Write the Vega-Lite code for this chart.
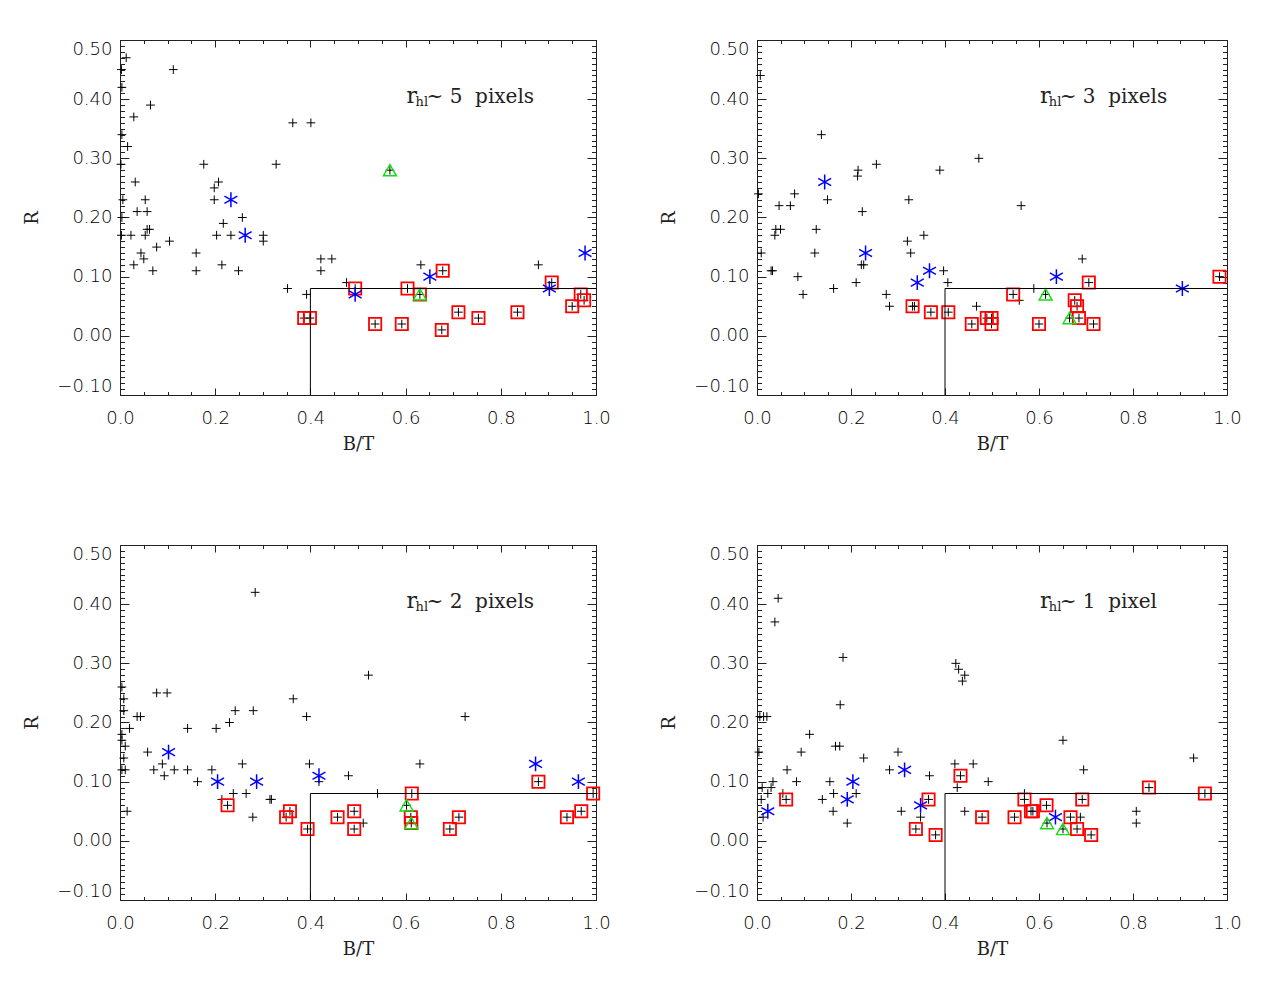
{
"$schema": "https://vega.github.io/schema/vega-lite/v6.json",
"background": "white",
"padding": {"left": 23, "top": 39, "right": 10, "bottom": 10},
"config": {
 "view": {"stroke": "#222", "strokeWidth": 1},
 "axis": {"grid": false, "domain": false, "tickColor": "#222", "tickWidth": 1, "labelFont": "DejaVu Sans", "labelFontSize": 18, "labelFontWeight": 300, "labelColor": "#000", "titleFont": "DejaVu Serif", "titleFontSize": 18, "titleFontWeight": "normal", "titleColor": "#222"},
 "text": {"font": "DejaVu Serif", "color": "#222"}
},
"datasets": {
 "edge": [{"bt": 0.4, "r": -0.1, "o": 1}, {"bt": 0.4, "r": 0.08, "o": 2}, {"bt": 1.0, "r": 0.08, "o": 3}],
 "pts": [
  {"p":1,"bt":0.013,"r":0.47,"k":"p"},{"p":1,"bt":0.112,"r":0.45,"k":"p"},{"p":1,"bt":0.003,"r":0.45,"k":"p"},{"p":1,"bt":0.004,"r":0.42,"k":"p"},
  {"p":1,"bt":0.064,"r":0.39,"k":"p"},{"p":1,"bt":0.029,"r":0.37,"k":"p"},{"p":1,"bt":0.004,"r":0.34,"k":"p"},{"p":1,"bt":0.016,"r":0.32,"k":"p"},
  {"p":1,"bt":0.363,"r":0.36,"k":"p"},{"p":1,"bt":0.401,"r":0.36,"k":"p"},{"p":1,"bt":0.176,"r":0.29,"k":"p"},{"p":1,"bt":0.328,"r":0.29,"k":"p"},
  {"p":1,"bt":0.002,"r":0.29,"k":"p"},{"p":1,"bt":0.032,"r":0.26,"k":"p"},{"p":1,"bt":0.207,"r":0.26,"k":"p"},{"p":1,"bt":0.198,"r":0.25,"k":"p"},
  {"p":1,"bt":0.198,"r":0.23,"k":"p"},{"p":1,"bt":0.006,"r":0.23,"k":"p"},{"p":1,"bt":0.053,"r":0.23,"k":"p"},{"p":1,"bt":0.036,"r":0.21,"k":"p"},
  {"p":1,"bt":0.057,"r":0.21,"k":"p"},{"p":1,"bt":0.257,"r":0.20,"k":"p"},{"p":1,"bt":0.004,"r":0.20,"k":"p"},{"p":1,"bt":0.217,"r":0.19,"k":"p"},
  {"p":1,"bt":0.057,"r":0.18,"k":"p"},{"p":1,"bt":0.062,"r":0.18,"k":"p"},{"p":1,"bt":0.003,"r":0.17,"k":"p"},{"p":1,"bt":0.023,"r":0.17,"k":"p"},
  {"p":1,"bt":0.053,"r":0.17,"k":"p"},{"p":1,"bt":0.203,"r":0.17,"k":"p"},{"p":1,"bt":0.233,"r":0.17,"k":"p"},{"p":1,"bt":0.301,"r":0.17,"k":"p"},
  {"p":1,"bt":0.301,"r":0.16,"k":"p"},{"p":1,"bt":0.077,"r":0.15,"k":"p"},{"p":1,"bt":0.104,"r":0.16,"k":"p"},{"p":1,"bt":0.044,"r":0.14,"k":"p"},
  {"p":1,"bt":0.050,"r":0.13,"k":"p"},{"p":1,"bt":0.160,"r":0.14,"k":"p"},{"p":1,"bt":0.029,"r":0.12,"k":"p"},{"p":1,"bt":0.214,"r":0.12,"k":"p"},
  {"p":1,"bt":0.069,"r":0.11,"k":"p"},{"p":1,"bt":0.160,"r":0.11,"k":"p"},{"p":1,"bt":0.249,"r":0.11,"k":"p"},{"p":1,"bt":0.422,"r":0.13,"k":"p"},
  {"p":1,"bt":0.445,"r":0.13,"k":"p"},{"p":1,"bt":0.422,"r":0.11,"k":"p"},{"p":1,"bt":0.352,"r":0.08,"k":"p"},{"p":1,"bt":0.392,"r":0.07,"k":"p"},
  {"p":1,"bt":0.476,"r":0.09,"k":"p"},{"p":1,"bt":0.632,"r":0.12,"k":"p"},{"p":1,"bt":0.879,"r":0.12,"k":"p"},
  {"p":1,"bt":0.387,"r":0.03,"k":"s"},{"p":1,"bt":0.399,"r":0.03,"k":"s"},{"p":1,"bt":0.494,"r":0.08,"k":"s"},{"p":1,"bt":0.604,"r":0.08,"k":"s"},
  {"p":1,"bt":0.678,"r":0.11,"k":"s"},{"p":1,"bt":0.536,"r":0.02,"k":"s"},{"p":1,"bt":0.592,"r":0.02,"k":"s"},{"p":1,"bt":0.676,"r":0.01,"k":"s"},
  {"p":1,"bt":0.711,"r":0.04,"k":"s"},{"p":1,"bt":0.753,"r":0.03,"k":"s"},{"p":1,"bt":0.835,"r":0.04,"k":"s"},{"p":1,"bt":0.907,"r":0.09,"k":"s"},
  {"p":1,"bt":0.968,"r":0.07,"k":"s"},{"p":1,"bt":0.975,"r":0.06,"k":"s"},{"p":1,"bt":0.950,"r":0.05,"k":"s"},
  {"p":1,"bt":0.567,"r":0.28,"k":"t"},{"p":1,"bt":0.630,"r":0.07,"k":"st"},
  {"p":1,"bt":0.233,"r":0.23,"k":"a"},{"p":1,"bt":0.263,"r":0.17,"k":"a"},{"p":1,"bt":0.494,"r":0.07,"k":"a"},{"p":1,"bt":0.651,"r":0.10,"k":"a"},
  {"p":1,"bt":0.902,"r":0.08,"k":"a"},{"p":1,"bt":0.977,"r":0.14,"k":"a"},

  {"p":2,"bt":0.007,"r":0.44,"k":"p"},{"p":2,"bt":0.137,"r":0.34,"k":"p"},{"p":2,"bt":0.472,"r":0.30,"k":"p"},{"p":2,"bt":0.254,"r":0.29,"k":"p"},
  {"p":2,"bt":0.215,"r":0.28,"k":"p"},{"p":2,"bt":0.214,"r":0.27,"k":"p"},{"p":2,"bt":0.389,"r":0.28,"k":"p"},{"p":2,"bt":0.080,"r":0.24,"k":"p"},
  {"p":2,"bt":0.003,"r":0.24,"k":"p"},{"p":2,"bt":0.150,"r":0.23,"k":"p"},{"p":2,"bt":0.323,"r":0.23,"k":"p"},{"p":2,"bt":0.047,"r":0.22,"k":"p"},
  {"p":2,"bt":0.071,"r":0.22,"k":"p"},{"p":2,"bt":0.224,"r":0.21,"k":"p"},{"p":2,"bt":0.040,"r":0.18,"k":"p"},{"p":2,"bt":0.050,"r":0.18,"k":"p"},
  {"p":2,"bt":0.038,"r":0.17,"k":"p"},{"p":2,"bt":0.126,"r":0.18,"k":"p"},{"p":2,"bt":0.320,"r":0.16,"k":"p"},{"p":2,"bt":0.355,"r":0.17,"k":"p"},
  {"p":2,"bt":0.009,"r":0.14,"k":"p"},{"p":2,"bt":0.123,"r":0.14,"k":"p"},{"p":2,"bt":0.327,"r":0.14,"k":"p"},{"p":2,"bt":0.222,"r":0.12,"k":"p"},
  {"p":2,"bt":0.227,"r":0.12,"k":"p"},{"p":2,"bt":0.030,"r":0.11,"k":"p"},{"p":2,"bt":0.033,"r":0.11,"k":"p"},{"p":2,"bt":0.087,"r":0.10,"k":"p"},
  {"p":2,"bt":0.098,"r":0.07,"k":"p"},{"p":2,"bt":0.163,"r":0.08,"k":"p"},{"p":2,"bt":0.211,"r":0.09,"k":"p"},{"p":2,"bt":0.397,"r":0.11,"k":"p"},
  {"p":2,"bt":0.406,"r":0.09,"k":"p"},{"p":2,"bt":0.275,"r":0.07,"k":"p"},{"p":2,"bt":0.282,"r":0.05,"k":"p"},{"p":2,"bt":0.467,"r":0.05,"k":"p"},
  {"p":2,"bt":0.562,"r":0.22,"k":"p"},{"p":2,"bt":0.692,"r":0.13,"k":"p"},{"p":2,"bt":0.589,"r":0.08,"k":"p"},{"p":2,"bt":0.558,"r":0.06,"k":"p"},
  {"p":2,"bt":0.335,"r":0.05,"k":"p"},
  {"p":2,"bt":0.331,"r":0.05,"k":"s"},{"p":2,"bt":0.370,"r":0.04,"k":"s"},{"p":2,"bt":0.407,"r":0.04,"k":"s"},{"p":2,"bt":0.457,"r":0.02,"k":"s"},
  {"p":2,"bt":0.489,"r":0.03,"k":"s"},{"p":2,"bt":0.499,"r":0.03,"k":"s"},{"p":2,"bt":0.499,"r":0.02,"k":"s"},{"p":2,"bt":0.545,"r":0.07,"k":"s"},
  {"p":2,"bt":0.600,"r":0.02,"k":"s"},{"p":2,"bt":0.676,"r":0.06,"k":"s"},{"p":2,"bt":0.681,"r":0.05,"k":"s"},{"p":2,"bt":0.685,"r":0.03,"k":"s"},
  {"p":2,"bt":0.716,"r":0.02,"k":"s"},{"p":2,"bt":0.706,"r":0.09,"k":"s"},{"p":2,"bt":0.984,"r":0.10,"k":"s"},
  {"p":2,"bt":0.614,"r":0.07,"k":"t"},{"p":2,"bt":0.665,"r":0.03,"k":"t"},
  {"p":2,"bt":0.144,"r":0.26,"k":"a"},{"p":2,"bt":0.231,"r":0.14,"k":"a"},{"p":2,"bt":0.367,"r":0.11,"k":"a"},{"p":2,"bt":0.341,"r":0.09,"k":"a"},
  {"p":2,"bt":0.637,"r":0.10,"k":"a"},{"p":2,"bt":0.905,"r":0.08,"k":"a"},

  {"p":3,"bt":0.284,"r":0.42,"k":"p"},{"p":3,"bt":0.004,"r":0.26,"k":"p"},{"p":3,"bt":0.008,"r":0.24,"k":"p"},{"p":3,"bt":0.008,"r":0.22,"k":"p"},
  {"p":3,"bt":0.036,"r":0.21,"k":"p"},{"p":3,"bt":0.043,"r":0.21,"k":"p"},{"p":3,"bt":0.020,"r":0.19,"k":"p"},{"p":3,"bt":0.004,"r":0.18,"k":"p"},
  {"p":3,"bt":0.004,"r":0.17,"k":"p"},{"p":3,"bt":0.011,"r":0.16,"k":"p"},{"p":3,"bt":0.008,"r":0.14,"k":"p"},{"p":3,"bt":0.004,"r":0.12,"k":"p"},
  {"p":3,"bt":0.011,"r":0.12,"k":"p"},{"p":3,"bt":0.015,"r":0.05,"k":"p"},{"p":3,"bt":0.077,"r":0.25,"k":"p"},{"p":3,"bt":0.099,"r":0.25,"k":"p"},
  {"p":3,"bt":0.142,"r":0.19,"k":"p"},{"p":3,"bt":0.202,"r":0.19,"k":"p"},{"p":3,"bt":0.230,"r":0.20,"k":"p"},{"p":3,"bt":0.242,"r":0.22,"k":"p"},
  {"p":3,"bt":0.280,"r":0.22,"k":"p"},{"p":3,"bt":0.364,"r":0.24,"k":"p"},{"p":3,"bt":0.392,"r":0.21,"k":"p"},{"p":3,"bt":0.058,"r":0.15,"k":"p"},
  {"p":3,"bt":0.089,"r":0.13,"k":"p"},{"p":3,"bt":0.071,"r":0.12,"k":"p"},{"p":3,"bt":0.114,"r":0.12,"k":"p"},{"p":3,"bt":0.142,"r":0.12,"k":"p"},
  {"p":3,"bt":0.093,"r":0.11,"k":"p"},{"p":3,"bt":0.193,"r":0.12,"k":"p"},{"p":3,"bt":0.257,"r":0.13,"k":"p"},{"p":3,"bt":0.163,"r":0.10,"k":"p"},
  {"p":3,"bt":0.398,"r":0.13,"k":"p"},{"p":3,"bt":0.418,"r":0.10,"k":"p"},{"p":3,"bt":0.480,"r":0.11,"k":"p"},{"p":3,"bt":0.238,"r":0.08,"k":"p"},
  {"p":3,"bt":0.214,"r":0.07,"k":"p"},{"p":3,"bt":0.265,"r":0.08,"k":"p"},{"p":3,"bt":0.315,"r":0.07,"k":"p"},{"p":3,"bt":0.318,"r":0.07,"k":"p"},
  {"p":3,"bt":0.279,"r":0.04,"k":"p"},{"p":3,"bt":0.522,"r":0.28,"k":"p"},{"p":3,"bt":0.725,"r":0.21,"k":"p"},{"p":3,"bt":0.630,"r":0.13,"k":"p"},
  {"p":3,"bt":0.541,"r":0.08,"k":"p"},{"p":3,"bt":0.511,"r":0.03,"k":"p"},
  {"p":3,"bt":0.226,"r":0.06,"k":"s"},{"p":3,"bt":0.357,"r":0.05,"k":"s"},{"p":3,"bt":0.349,"r":0.04,"k":"s"},{"p":3,"bt":0.394,"r":0.02,"k":"s"},
  {"p":3,"bt":0.457,"r":0.04,"k":"s"},{"p":3,"bt":0.492,"r":0.05,"k":"s"},{"p":3,"bt":0.492,"r":0.02,"k":"s"},{"p":3,"bt":0.613,"r":0.08,"k":"s"},
  {"p":3,"bt":0.611,"r":0.04,"k":"s"},{"p":3,"bt":0.693,"r":0.02,"k":"s"},{"p":3,"bt":0.712,"r":0.04,"k":"s"},{"p":3,"bt":0.879,"r":0.10,"k":"s"},
  {"p":3,"bt":0.939,"r":0.04,"k":"s"},{"p":3,"bt":0.969,"r":0.05,"k":"s"},{"p":3,"bt":0.994,"r":0.08,"k":"s"},
  {"p":3,"bt":0.612,"r":0.03,"k":"st"},{"p":3,"bt":0.602,"r":0.06,"k":"t"},
  {"p":3,"bt":0.102,"r":0.15,"k":"a"},{"p":3,"bt":0.205,"r":0.10,"k":"a"},{"p":3,"bt":0.287,"r":0.10,"k":"a"},{"p":3,"bt":0.418,"r":0.11,"k":"a"},
  {"p":3,"bt":0.873,"r":0.13,"k":"a"},{"p":3,"bt":0.963,"r":0.10,"k":"a"},

  {"p":4,"bt":0.045,"r":0.41,"k":"p"},{"p":4,"bt":0.038,"r":0.37,"k":"p"},{"p":4,"bt":0.183,"r":0.31,"k":"p"},{"p":4,"bt":0.177,"r":0.23,"k":"p"},
  {"p":4,"bt":0.423,"r":0.30,"k":"p"},{"p":4,"bt":0.429,"r":0.29,"k":"p"},{"p":4,"bt":0.442,"r":0.28,"k":"p"},{"p":4,"bt":0.437,"r":0.27,"k":"p"},
  {"p":4,"bt":0.006,"r":0.21,"k":"p"},{"p":4,"bt":0.014,"r":0.21,"k":"p"},{"p":4,"bt":0.021,"r":0.21,"k":"p"},{"p":4,"bt":0.112,"r":0.18,"k":"p"},
  {"p":4,"bt":0.004,"r":0.15,"k":"p"},{"p":4,"bt":0.094,"r":0.15,"k":"p"},{"p":4,"bt":0.167,"r":0.16,"k":"p"},{"p":4,"bt":0.176,"r":0.16,"k":"p"},
  {"p":4,"bt":0.227,"r":0.14,"k":"p"},{"p":4,"bt":0.300,"r":0.15,"k":"p"},{"p":4,"bt":0.064,"r":0.12,"k":"p"},{"p":4,"bt":0.282,"r":0.12,"k":"p"},
  {"p":4,"bt":0.084,"r":0.10,"k":"p"},{"p":4,"bt":0.155,"r":0.10,"k":"p"},{"p":4,"bt":0.034,"r":0.10,"k":"p"},{"p":4,"bt":0.011,"r":0.09,"k":"p"},
  {"p":4,"bt":0.030,"r":0.09,"k":"p"},{"p":4,"bt":0.023,"r":0.08,"k":"p"},{"p":4,"bt":0.055,"r":0.08,"k":"p"},{"p":4,"bt":0.009,"r":0.07,"k":"p"},
  {"p":4,"bt":0.013,"r":0.04,"k":"p"},{"p":4,"bt":0.163,"r":0.08,"k":"p"},{"p":4,"bt":0.139,"r":0.07,"k":"p"},{"p":4,"bt":0.211,"r":0.08,"k":"p"},
  {"p":4,"bt":0.162,"r":0.05,"k":"p"},{"p":4,"bt":0.192,"r":0.03,"k":"p"},{"p":4,"bt":0.421,"r":0.13,"k":"p"},{"p":4,"bt":0.460,"r":0.13,"k":"p"},
  {"p":4,"bt":0.426,"r":0.09,"k":"p"},{"p":4,"bt":0.367,"r":0.11,"k":"p"},{"p":4,"bt":0.492,"r":0.10,"k":"p"},{"p":4,"bt":0.348,"r":0.04,"k":"p"},
  {"p":4,"bt":0.307,"r":0.05,"k":"p"},{"p":4,"bt":0.442,"r":0.05,"k":"p"},{"p":4,"bt":0.651,"r":0.17,"k":"p"},{"p":4,"bt":0.695,"r":0.12,"k":"p"},
  {"p":4,"bt":0.929,"r":0.14,"k":"p"},{"p":4,"bt":0.569,"r":0.08,"k":"p"},{"p":4,"bt":0.688,"r":0.04,"k":"p"},{"p":4,"bt":0.807,"r":0.05,"k":"p"},
  {"p":4,"bt":0.807,"r":0.03,"k":"p"},
  {"p":4,"bt":0.062,"r":0.07,"k":"s"},{"p":4,"bt":0.433,"r":0.11,"k":"s"},{"p":4,"bt":0.365,"r":0.07,"k":"s"},{"p":4,"bt":0.338,"r":0.02,"k":"s"},
  {"p":4,"bt":0.380,"r":0.01,"k":"s"},{"p":4,"bt":0.479,"r":0.04,"k":"s"},{"p":4,"bt":0.834,"r":0.09,"k":"s"},{"p":4,"bt":0.953,"r":0.08,"k":"s"},
  {"p":4,"bt":0.569,"r":0.07,"k":"s"},{"p":4,"bt":0.692,"r":0.07,"k":"s"},{"p":4,"bt":0.616,"r":0.06,"k":"s"},{"p":4,"bt":0.583,"r":0.05,"k":"s"},
  {"p":4,"bt":0.587,"r":0.05,"k":"s"},{"p":4,"bt":0.548,"r":0.04,"k":"s"},{"p":4,"bt":0.667,"r":0.04,"k":"s"},{"p":4,"bt":0.681,"r":0.02,"k":"s"},
  {"p":4,"bt":0.711,"r":0.01,"k":"s"},
  {"p":4,"bt":0.617,"r":0.03,"k":"t"},{"p":4,"bt":0.651,"r":0.02,"k":"t"},
  {"p":4,"bt":0.023,"r":0.05,"k":"a"},{"p":4,"bt":0.314,"r":0.12,"k":"a"},{"p":4,"bt":0.204,"r":0.10,"k":"a"},{"p":4,"bt":0.192,"r":0.07,"k":"a"},
  {"p":4,"bt":0.348,"r":0.06,"k":"a"},{"p":4,"bt":0.635,"r":0.04,"k":"a"}
 ]
},
"columns": 2,
"spacing": {"row": 150, "column": 161},
"bounds": "flush",
"concat": [
 {"width": 476, "height": 355, "resolve": {"axis": {"x": "independent", "y": "independent"}},
  "layer": [
   {"data": {"name": "pts"}, "transform": [{"filter": "datum.p == 1 && datum.k != 'a'"}],
    "mark": {"type": "point", "shape": "M-1,0H1M0,-1V1", "filled": false, "color": "#000", "strokeWidth": 1, "size": 76, "opacity": 1},
    "encoding": {"x": {"field": "bt", "type": "quantitative", "scale": {"domain": [0, 1], "nice": false, "zero": false}, "axis": {"orient": "bottom", "title": "B/T", "ticks": false, "values": [0, 0.2, 0.4, 0.6, 0.8, 1], "format": ".1f", "labelFlush": false, "labelPadding": 14, "titlePadding": 8}},
                 "y": {"field": "r", "type": "quantitative", "scale": {"domain": [-0.1, 0.5], "nice": false, "zero": false}, "axis": {"orient": "left", "title": "R", "ticks": false, "values": [-0.1, 0, 0.1, 0.2, 0.3, 0.4, 0.5], "format": ".2f", "labelFlush": true, "labelPadding": 8, "titlePadding": 15}}}},
   {"data": {"name": "pts"}, "transform": [{"filter": "datum.p == 1 && (datum.k == 's' || datum.k == 'st')"}],
    "mark": {"type": "point", "shape": "square", "filled": false, "color": "#ff0000", "strokeWidth": 1.8, "size": 150, "opacity": 1},
    "encoding": {"x": {"field": "bt", "type": "quantitative", "axis": {"orient": "bottom", "title": null, "labels": false, "tickCount": 5, "tickSize": -7}},
                 "y": {"field": "r", "type": "quantitative", "axis": {"orient": "left", "title": null, "labels": false, "tickCount": 6, "tickSize": -9}}}},
   {"data": {"name": "pts"}, "transform": [{"filter": "datum.p == 1 && datum.k == 'a'"}],
    "mark": {"type": "point", "shape": "M0,-1V1M-0.87,-0.5L0.87,0.5M-0.87,0.5L0.87,-0.5", "filled": false, "color": "#0000ff", "strokeWidth": 1.5, "size": 220, "opacity": 1},
    "encoding": {"x": {"field": "bt", "type": "quantitative", "axis": {"orient": "bottom", "title": null, "labels": false, "tickCount": 20, "tickSize": -3.5}},
                 "y": {"field": "r", "type": "quantitative", "axis": {"orient": "left", "title": null, "labels": false, "tickCount": 60, "tickSize": -4.5}}}},
   {"data": {"name": "pts"}, "transform": [{"filter": "datum.p == 1 && (datum.k == 't' || datum.k == 'st')"}],
    "mark": {"type": "point", "shape": "triangle-up", "filled": false, "color": "#10e010", "strokeWidth": 1.4, "size": 170, "opacity": 1},
    "encoding": {"x": {"field": "bt", "type": "quantitative", "axis": {"orient": "top", "title": null, "labels": false, "tickCount": 5, "tickSize": -7}},
                 "y": {"field": "r", "type": "quantitative", "axis": {"orient": "right", "title": null, "labels": false, "tickCount": 6, "tickSize": -9}}}},
   {"data": {"name": "edge"}, "mark": {"type": "line", "color": "#000", "strokeWidth": 1},
    "encoding": {"x": {"field": "bt", "type": "quantitative", "axis": {"orient": "top", "title": null, "labels": false, "tickCount": 20, "tickSize": -3.5}},
                 "y": {"field": "r", "type": "quantitative", "axis": {"orient": "right", "title": null, "labels": false, "tickCount": 60, "tickSize": -4.5}},
                 "order": {"field": "o"}}},
   {"data": {"values": [{}]}, "mark": {"type": "text", "text": "r", "fontSize": 22, "align": "left", "baseline": "alphabetic"},
    "encoding": {"x": {"datum": 0.602, "type": "quantitative", "axis": null}, "y": {"datum": 0.394, "type": "quantitative", "axis": null}}},
   {"data": {"values": [{}]}, "mark": {"type": "text", "text": "hl", "fontSize": 13, "align": "left", "baseline": "alphabetic"},
    "encoding": {"x": {"datum": 0.621, "type": "quantitative", "axis": null}, "y": {"datum": 0.388, "type": "quantitative", "axis": null}}},
   {"data": {"values": [{}]}, "mark": {"type": "text", "text": "~\u00a05\u00a0\u00a0pixels", "fontSize": 20, "align": "left", "baseline": "alphabetic"},
    "encoding": {"x": {"datum": 0.644, "type": "quantitative", "axis": null}, "y": {"datum": 0.394, "type": "quantitative", "axis": null}}}
  ]},
 {"width": 470, "height": 355, "resolve": {"axis": {"x": "independent", "y": "independent"}},
  "layer": [
   {"data": {"name": "pts"}, "transform": [{"filter": "datum.p == 2 && datum.k != 'a'"}],
    "mark": {"type": "point", "shape": "M-1,0H1M0,-1V1", "filled": false, "color": "#000", "strokeWidth": 1, "size": 76, "opacity": 1},
    "encoding": {"x": {"field": "bt", "type": "quantitative", "scale": {"domain": [0, 1], "nice": false, "zero": false}, "axis": {"orient": "bottom", "title": "B/T", "ticks": false, "values": [0, 0.2, 0.4, 0.6, 0.8, 1], "format": ".1f", "labelFlush": false, "labelPadding": 14, "titlePadding": 8}},
                 "y": {"field": "r", "type": "quantitative", "scale": {"domain": [-0.1, 0.5], "nice": false, "zero": false}, "axis": {"orient": "left", "title": "R", "ticks": false, "values": [-0.1, 0, 0.1, 0.2, 0.3, 0.4, 0.5], "format": ".2f", "labelFlush": true, "labelPadding": 8, "titlePadding": 15}}}},
   {"data": {"name": "pts"}, "transform": [{"filter": "datum.p == 2 && (datum.k == 's' || datum.k == 'st')"}],
    "mark": {"type": "point", "shape": "square", "filled": false, "color": "#ff0000", "strokeWidth": 1.8, "size": 150, "opacity": 1},
    "encoding": {"x": {"field": "bt", "type": "quantitative", "axis": {"orient": "bottom", "title": null, "labels": false, "tickCount": 5, "tickSize": -7}},
                 "y": {"field": "r", "type": "quantitative", "axis": {"orient": "left", "title": null, "labels": false, "tickCount": 6, "tickSize": -9}}}},
   {"data": {"name": "pts"}, "transform": [{"filter": "datum.p == 2 && datum.k == 'a'"}],
    "mark": {"type": "point", "shape": "M0,-1V1M-0.87,-0.5L0.87,0.5M-0.87,0.5L0.87,-0.5", "filled": false, "color": "#0000ff", "strokeWidth": 1.5, "size": 220, "opacity": 1},
    "encoding": {"x": {"field": "bt", "type": "quantitative", "axis": {"orient": "bottom", "title": null, "labels": false, "tickCount": 20, "tickSize": -3.5}},
                 "y": {"field": "r", "type": "quantitative", "axis": {"orient": "left", "title": null, "labels": false, "tickCount": 60, "tickSize": -4.5}}}},
   {"data": {"name": "pts"}, "transform": [{"filter": "datum.p == 2 && (datum.k == 't' || datum.k == 'st')"}],
    "mark": {"type": "point", "shape": "triangle-up", "filled": false, "color": "#10e010", "strokeWidth": 1.4, "size": 170, "opacity": 1},
    "encoding": {"x": {"field": "bt", "type": "quantitative", "axis": {"orient": "top", "title": null, "labels": false, "tickCount": 5, "tickSize": -7}},
                 "y": {"field": "r", "type": "quantitative", "axis": {"orient": "right", "title": null, "labels": false, "tickCount": 6, "tickSize": -9}}}},
   {"data": {"name": "edge"}, "mark": {"type": "line", "color": "#000", "strokeWidth": 1},
    "encoding": {"x": {"field": "bt", "type": "quantitative", "axis": {"orient": "top", "title": null, "labels": false, "tickCount": 20, "tickSize": -3.5}},
                 "y": {"field": "r", "type": "quantitative", "axis": {"orient": "right", "title": null, "labels": false, "tickCount": 60, "tickSize": -4.5}},
                 "order": {"field": "o"}}},
   {"data": {"values": [{}]}, "mark": {"type": "text", "text": "r", "fontSize": 22, "align": "left", "baseline": "alphabetic"},
    "encoding": {"x": {"datum": 0.602, "type": "quantitative", "axis": null}, "y": {"datum": 0.394, "type": "quantitative", "axis": null}}},
   {"data": {"values": [{}]}, "mark": {"type": "text", "text": "hl", "fontSize": 13, "align": "left", "baseline": "alphabetic"},
    "encoding": {"x": {"datum": 0.621, "type": "quantitative", "axis": null}, "y": {"datum": 0.388, "type": "quantitative", "axis": null}}},
   {"data": {"values": [{}]}, "mark": {"type": "text", "text": "~\u00a03\u00a0\u00a0pixels", "fontSize": 20, "align": "left", "baseline": "alphabetic"},
    "encoding": {"x": {"datum": 0.644, "type": "quantitative", "axis": null}, "y": {"datum": 0.394, "type": "quantitative", "axis": null}}}
  ]},
 {"width": 476, "height": 355, "resolve": {"axis": {"x": "independent", "y": "independent"}},
  "layer": [
   {"data": {"name": "pts"}, "transform": [{"filter": "datum.p == 3 && datum.k != 'a'"}],
    "mark": {"type": "point", "shape": "M-1,0H1M0,-1V1", "filled": false, "color": "#000", "strokeWidth": 1, "size": 76, "opacity": 1},
    "encoding": {"x": {"field": "bt", "type": "quantitative", "scale": {"domain": [0, 1], "nice": false, "zero": false}, "axis": {"orient": "bottom", "title": "B/T", "ticks": false, "values": [0, 0.2, 0.4, 0.6, 0.8, 1], "format": ".1f", "labelFlush": false, "labelPadding": 14, "titlePadding": 8}},
                 "y": {"field": "r", "type": "quantitative", "scale": {"domain": [-0.1, 0.5], "nice": false, "zero": false}, "axis": {"orient": "left", "title": "R", "ticks": false, "values": [-0.1, 0, 0.1, 0.2, 0.3, 0.4, 0.5], "format": ".2f", "labelFlush": true, "labelPadding": 8, "titlePadding": 15}}}},
   {"data": {"name": "pts"}, "transform": [{"filter": "datum.p == 3 && (datum.k == 's' || datum.k == 'st')"}],
    "mark": {"type": "point", "shape": "square", "filled": false, "color": "#ff0000", "strokeWidth": 1.8, "size": 150, "opacity": 1},
    "encoding": {"x": {"field": "bt", "type": "quantitative", "axis": {"orient": "bottom", "title": null, "labels": false, "tickCount": 5, "tickSize": -7}},
                 "y": {"field": "r", "type": "quantitative", "axis": {"orient": "left", "title": null, "labels": false, "tickCount": 6, "tickSize": -9}}}},
   {"data": {"name": "pts"}, "transform": [{"filter": "datum.p == 3 && datum.k == 'a'"}],
    "mark": {"type": "point", "shape": "M0,-1V1M-0.87,-0.5L0.87,0.5M-0.87,0.5L0.87,-0.5", "filled": false, "color": "#0000ff", "strokeWidth": 1.5, "size": 220, "opacity": 1},
    "encoding": {"x": {"field": "bt", "type": "quantitative", "axis": {"orient": "bottom", "title": null, "labels": false, "tickCount": 20, "tickSize": -3.5}},
                 "y": {"field": "r", "type": "quantitative", "axis": {"orient": "left", "title": null, "labels": false, "tickCount": 60, "tickSize": -4.5}}}},
   {"data": {"name": "pts"}, "transform": [{"filter": "datum.p == 3 && (datum.k == 't' || datum.k == 'st')"}],
    "mark": {"type": "point", "shape": "triangle-up", "filled": false, "color": "#10e010", "strokeWidth": 1.4, "size": 170, "opacity": 1},
    "encoding": {"x": {"field": "bt", "type": "quantitative", "axis": {"orient": "top", "title": null, "labels": false, "tickCount": 5, "tickSize": -7}},
                 "y": {"field": "r", "type": "quantitative", "axis": {"orient": "right", "title": null, "labels": false, "tickCount": 6, "tickSize": -9}}}},
   {"data": {"name": "edge"}, "mark": {"type": "line", "color": "#000", "strokeWidth": 1},
    "encoding": {"x": {"field": "bt", "type": "quantitative", "axis": {"orient": "top", "title": null, "labels": false, "tickCount": 20, "tickSize": -3.5}},
                 "y": {"field": "r", "type": "quantitative", "axis": {"orient": "right", "title": null, "labels": false, "tickCount": 60, "tickSize": -4.5}},
                 "order": {"field": "o"}}},
   {"data": {"values": [{}]}, "mark": {"type": "text", "text": "r", "fontSize": 22, "align": "left", "baseline": "alphabetic"},
    "encoding": {"x": {"datum": 0.602, "type": "quantitative", "axis": null}, "y": {"datum": 0.394, "type": "quantitative", "axis": null}}},
   {"data": {"values": [{}]}, "mark": {"type": "text", "text": "hl", "fontSize": 13, "align": "left", "baseline": "alphabetic"},
    "encoding": {"x": {"datum": 0.621, "type": "quantitative", "axis": null}, "y": {"datum": 0.388, "type": "quantitative", "axis": null}}},
   {"data": {"values": [{}]}, "mark": {"type": "text", "text": "~\u00a02\u00a0\u00a0pixels", "fontSize": 20, "align": "left", "baseline": "alphabetic"},
    "encoding": {"x": {"datum": 0.644, "type": "quantitative", "axis": null}, "y": {"datum": 0.394, "type": "quantitative", "axis": null}}}
  ]},
 {"width": 470, "height": 355, "resolve": {"axis": {"x": "independent", "y": "independent"}},
  "layer": [
   {"data": {"name": "pts"}, "transform": [{"filter": "datum.p == 4 && datum.k != 'a'"}],
    "mark": {"type": "point", "shape": "M-1,0H1M0,-1V1", "filled": false, "color": "#000", "strokeWidth": 1, "size": 76, "opacity": 1},
    "encoding": {"x": {"field": "bt", "type": "quantitative", "scale": {"domain": [0, 1], "nice": false, "zero": false}, "axis": {"orient": "bottom", "title": "B/T", "ticks": false, "values": [0, 0.2, 0.4, 0.6, 0.8, 1], "format": ".1f", "labelFlush": false, "labelPadding": 14, "titlePadding": 8}},
                 "y": {"field": "r", "type": "quantitative", "scale": {"domain": [-0.1, 0.5], "nice": false, "zero": false}, "axis": {"orient": "left", "title": "R", "ticks": false, "values": [-0.1, 0, 0.1, 0.2, 0.3, 0.4, 0.5], "format": ".2f", "labelFlush": true, "labelPadding": 8, "titlePadding": 15}}}},
   {"data": {"name": "pts"}, "transform": [{"filter": "datum.p == 4 && (datum.k == 's' || datum.k == 'st')"}],
    "mark": {"type": "point", "shape": "square", "filled": false, "color": "#ff0000", "strokeWidth": 1.8, "size": 150, "opacity": 1},
    "encoding": {"x": {"field": "bt", "type": "quantitative", "axis": {"orient": "bottom", "title": null, "labels": false, "tickCount": 5, "tickSize": -7}},
                 "y": {"field": "r", "type": "quantitative", "axis": {"orient": "left", "title": null, "labels": false, "tickCount": 6, "tickSize": -9}}}},
   {"data": {"name": "pts"}, "transform": [{"filter": "datum.p == 4 && datum.k == 'a'"}],
    "mark": {"type": "point", "shape": "M0,-1V1M-0.87,-0.5L0.87,0.5M-0.87,0.5L0.87,-0.5", "filled": false, "color": "#0000ff", "strokeWidth": 1.5, "size": 220, "opacity": 1},
    "encoding": {"x": {"field": "bt", "type": "quantitative", "axis": {"orient": "bottom", "title": null, "labels": false, "tickCount": 20, "tickSize": -3.5}},
                 "y": {"field": "r", "type": "quantitative", "axis": {"orient": "left", "title": null, "labels": false, "tickCount": 60, "tickSize": -4.5}}}},
   {"data": {"name": "pts"}, "transform": [{"filter": "datum.p == 4 && (datum.k == 't' || datum.k == 'st')"}],
    "mark": {"type": "point", "shape": "triangle-up", "filled": false, "color": "#10e010", "strokeWidth": 1.4, "size": 170, "opacity": 1},
    "encoding": {"x": {"field": "bt", "type": "quantitative", "axis": {"orient": "top", "title": null, "labels": false, "tickCount": 5, "tickSize": -7}},
                 "y": {"field": "r", "type": "quantitative", "axis": {"orient": "right", "title": null, "labels": false, "tickCount": 6, "tickSize": -9}}}},
   {"data": {"name": "edge"}, "mark": {"type": "line", "color": "#000", "strokeWidth": 1},
    "encoding": {"x": {"field": "bt", "type": "quantitative", "axis": {"orient": "top", "title": null, "labels": false, "tickCount": 20, "tickSize": -3.5}},
                 "y": {"field": "r", "type": "quantitative", "axis": {"orient": "right", "title": null, "labels": false, "tickCount": 60, "tickSize": -4.5}},
                 "order": {"field": "o"}}},
   {"data": {"values": [{}]}, "mark": {"type": "text", "text": "r", "fontSize": 22, "align": "left", "baseline": "alphabetic"},
    "encoding": {"x": {"datum": 0.602, "type": "quantitative", "axis": null}, "y": {"datum": 0.394, "type": "quantitative", "axis": null}}},
   {"data": {"values": [{}]}, "mark": {"type": "text", "text": "hl", "fontSize": 13, "align": "left", "baseline": "alphabetic"},
    "encoding": {"x": {"datum": 0.621, "type": "quantitative", "axis": null}, "y": {"datum": 0.388, "type": "quantitative", "axis": null}}},
   {"data": {"values": [{}]}, "mark": {"type": "text", "text": "~\u00a01\u00a0\u00a0pixel", "fontSize": 20, "align": "left", "baseline": "alphabetic"},
    "encoding": {"x": {"datum": 0.644, "type": "quantitative", "axis": null}, "y": {"datum": 0.394, "type": "quantitative", "axis": null}}}
  ]}
]
}
